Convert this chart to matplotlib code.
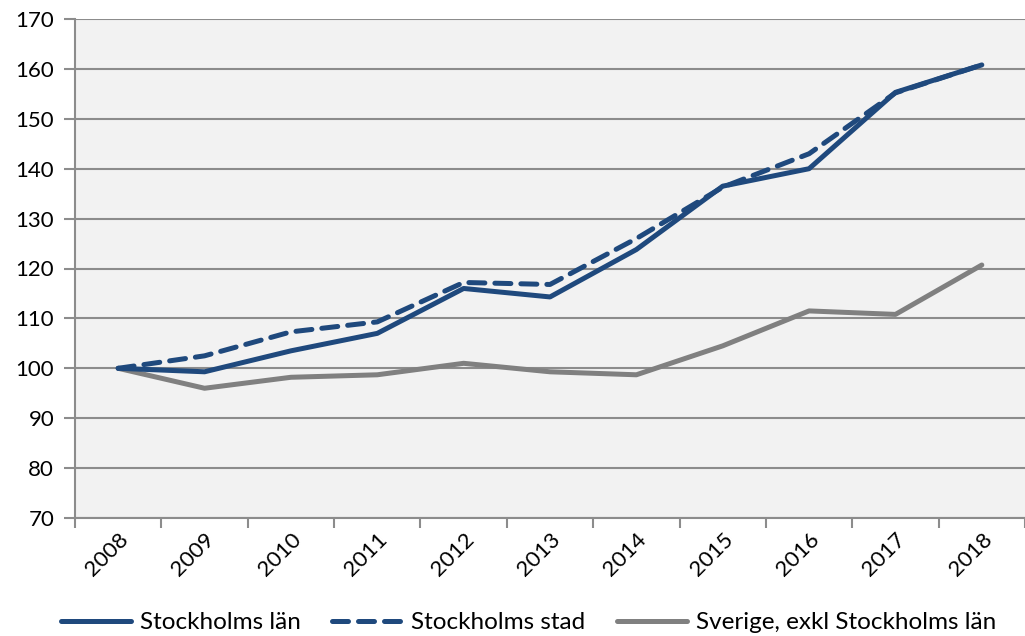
import matplotlib
matplotlib.use("Agg")
import matplotlib.pyplot as plt
import numpy as np

plt.rcParams['font.family'] = ['Lato', 'DejaVu Sans']

years = ["2008", "2009", "2010", "2011", "2012", "2013", "2014", "2015", "2016", "2017", "2018"]
lan = [100, 99.3, 103.5, 107.0, 116.0, 114.3, 123.8, 136.5, 140.0, 155.3, 160.8]
stad = [100, 102.5, 107.3, 109.3, 117.2, 116.8, 126.0, 136.3, 143.0, 155.2, 160.8]
sverige = [100, 96.0, 98.2, 98.7, 101.0, 99.3, 98.7, 104.5, 111.5, 110.8, 120.7]

blue = "#1F497D"
grey = "#808080"

fig = plt.figure(figsize=(10.25, 6.36), dpi=100)
ax = fig.add_axes([75 / 1025, 1 - 518 / 636, 1 - 75 / 1025, (518 - 19) / 636])
ax.set_facecolor("#F2F2F2")

x = np.arange(len(years))
ax.plot(x, lan, color=blue, lw=3.6, solid_capstyle="round", label="Stockholms län", zorder=3)
ax.plot(x, stad, color=blue, lw=3.6, linestyle=(0, (3.2, 2.0)), dash_capstyle="round",
        label="Stockholms stad", zorder=3)
ax.plot(x, sverige, color=grey, lw=3.6, solid_capstyle="round",
        label="Sverige, exkl Stockholms län", zorder=2)

ax.set_xlim(-0.5, len(years) - 0.5)
ax.set_ylim(70, 170)
ax.set_yticks(np.arange(70, 171, 10))
ax.yaxis.grid(True, color="#8C8C8C", lw=1.5)
ax.set_axisbelow(True)

# category ticks sit on boundaries, labels under the points
ax.set_xticks(np.arange(-0.5, len(years), 1.0))
ax.set_xticklabels([])
ax.set_xticks(x, minor=True)
ax.set_xticklabels(years, minor=True, rotation=45, ha="right", rotation_mode="anchor")
ax.tick_params(axis="x", which="minor", length=0, pad=8, labelsize=16)
ax.tick_params(axis="x", which="major", length=7, width=1.5, color="#8C8C8C", direction="out")
ax.tick_params(axis="y", length=8, width=1.5, color="#8C8C8C", labelsize=16, pad=7)

for s in ["top", "right"]:
    ax.spines[s].set_visible(False)
for s in ["left", "bottom"]:
    ax.spines[s].set_color("#8C8C8C")
    ax.spines[s].set_linewidth(1.5)

fig.legend(loc="lower left", bbox_to_anchor=(0.038, -0.03), ncol=3, frameon=False,
           fontsize=17.5, handlelength=2.9, columnspacing=1.3, handletextpad=0.35)

fig.savefig("out.png", dpi=100)
